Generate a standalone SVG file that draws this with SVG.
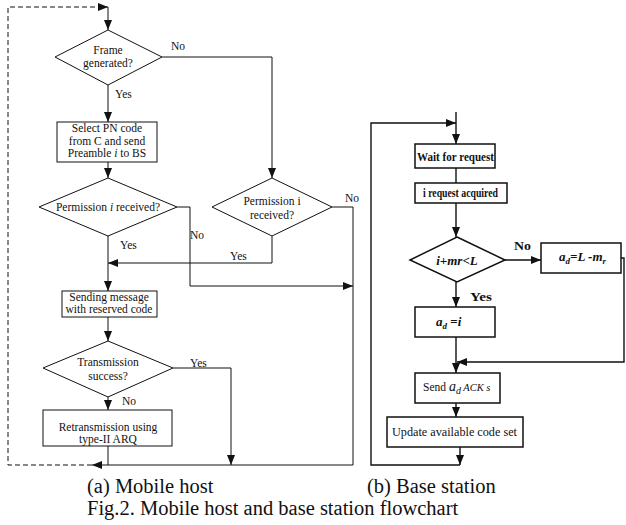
<svg xmlns="http://www.w3.org/2000/svg" width="626" height="525" viewBox="0 0 626 525">
<style>
.ln{fill:none;stroke:#111;stroke-width:1}
.lb{fill:none;stroke:#111;stroke-width:1.4}
.sh{fill:#fff;stroke:#111;stroke-width:1}
.shb{fill:#fff;stroke:#111;stroke-width:1.5}
.t{font-family:"Liberation Serif","Times New Roman",serif;font-size:11.5px;fill:#111}
.tb{font-family:"Liberation Serif","Times New Roman",serif;font-size:13px;font-weight:bold;fill:#111}
.cap{font-family:"Liberation Serif","Times New Roman",serif;font-size:20.5px;fill:#111}
.m{text-anchor:middle}
</style>
<defs>
<marker id="arr" viewBox="0 0 10 8" refX="10" refY="4" markerWidth="10" markerHeight="8" markerUnits="userSpaceOnUse" orient="auto">
<path d="M0,0 L10,4 L0,8 z" fill="#111"/>
</marker>
</defs>
<g id="connectors">
<path class="ln" d="M92,465 H8 V7 H108" stroke-dasharray="5,3" marker-end="url(#arr)"/>
<path class="ln" d="M108,7 V30" marker-end="url(#arr)"/>
<path class="ln" d="M108,85 V122" marker-end="url(#arr)"/>
<path class="ln" d="M108,162 V178" marker-end="url(#arr)"/>
<path class="ln" d="M162,57 H272 V178" marker-end="url(#arr)"/>
<path class="ln" d="M108,236 V291" marker-end="url(#arr)"/>
<path class="ln" d="M272,236 V263 H108" marker-end="url(#arr)"/>
<path class="ln" d="M177,207 H190 V286 H353" marker-end="url(#arr)"/>
<path class="ln" d="M332,207 H353 V465 H92" marker-end="url(#arr)"/>
<path class="ln" d="M108,317 V341" marker-end="url(#arr)"/>
<path class="ln" d="M173,368 H231 V465" marker-end="url(#arr)"/>
<path class="ln" d="M108,397 V410" marker-end="url(#arr)"/>
<path class="ln" d="M108,446 V465"/>
<path class="lb" d="M456,112 V144" marker-end="url(#arr)"/>
<path class="lb" d="M460,465 H371 V123 H456" marker-end="url(#arr)"/>
<path class="lb" d="M456,168 V183"/>
<path class="lb" d="M456,203 V237" marker-end="url(#arr)"/>
<path class="lb" d="M505,260 H541" marker-end="url(#arr)"/>
<path class="lb" d="M621,258 H624 V362 H457" marker-end="url(#arr)"/>
<path class="lb" d="M456,282 V307" marker-end="url(#arr)"/>
<path class="lb" d="M456,337 V373" marker-end="url(#arr)"/>
<path class="lb" d="M456,403 V417" marker-end="url(#arr)"/>
<path class="lb" d="M460,447 V465" marker-end="url(#arr)"/>
</g>
<g id="labels">
<text class="t" x="171" y="50">No</text>
<text class="t" x="115" y="98">Yes</text>
<text class="t" x="345" y="202">No</text>
<text class="t" x="230" y="260">Yes</text>
<text class="t" x="190" y="239">No</text>
<text class="t" x="120" y="249">Yes</text>
<text class="t" x="190" y="367">Yes</text>
<text class="t" x="122" y="405">No</text>
<text class="tb" x="514" y="250" textLength="17" lengthAdjust="spacingAndGlyphs">No</text>
<text class="tb" x="470" y="301" textLength="22" lengthAdjust="spacingAndGlyphs">Yes</text>
</g>
<g id="frame-generated">
<polygon class="sh" points="108,30 162,57 108,85 55,57"/>
<text class="t m" x="108" y="54">Frame</text>
<text class="t m" x="108" y="67">generated?</text>
</g>
<g id="select-pn">
<rect class="sh" x="57" y="122" width="100" height="40"/>
<text class="t m" x="107" y="132">Select PN code</text>
<text class="t m" x="107" y="145">from C and send</text>
<text class="t m" x="107" y="157">Preamble <tspan font-style="italic">i</tspan> to BS</text>
</g>
<g id="permission-left">
<polygon class="sh" points="108,178 177,207 108,236 39,207"/>
<text class="t m" x="108" y="211" font-size="12.5">Permission <tspan font-style="italic">i</tspan> received?</text>
</g>
<g id="permission-right">
<polygon class="sh" points="272,178 332,207 272,236 212,207"/>
<text class="t m" x="272" y="205" font-size="12">Permission i</text>
<text class="t m" x="272" y="219" font-size="12">received?</text>
</g>
<g id="sending">
<rect class="sh" x="62" y="291" width="95" height="26"/>
<text class="t m" x="109" y="301">Sending message</text>
<text class="t m" x="109" y="313">with reserved code</text>
</g>
<g id="transmission">
<polygon class="sh" points="108,341 173,368 108,397 43,368"/>
<text class="t m" x="108" y="366">Transmission</text>
<text class="t m" x="108" y="380">success?</text>
</g>
<g id="retransmission">
<rect class="sh" x="43" y="410" width="129" height="36"/>
<text class="t m" x="108" y="431">Retransmission using</text>
<text class="t m" x="108" y="443">type-II ARQ</text>
</g>
<g id="wait">
<rect class="shb" x="415" y="144" width="80" height="24"/>
<text class="tb" x="417" y="161" textLength="77" lengthAdjust="spacingAndGlyphs">Wait for request</text>
</g>
<g id="acquired">
<rect class="shb" x="415" y="183" width="92" height="20"/>
<text class="tb" x="423" y="197" font-size="12.5" textLength="75" lengthAdjust="spacingAndGlyphs">i request acquired</text>
</g>
<g id="condition">
<polygon class="shb" points="457,237 505,260 457,282 410,260"/>
<text class="tb m" x="457" y="265" font-style="italic">i+mr&lt;L</text>
</g>
<g id="ad-L">
<rect class="shb" x="541" y="243" width="80" height="30"/>
<text class="tb" x="559" y="261" font-style="italic" font-size="12.5">a<tspan dy="3" font-size="9">d</tspan><tspan dy="-3">=L -m</tspan><tspan dy="3" font-size="9">r</tspan></text>
</g>
<g id="ad-i">
<rect class="shb" x="415" y="307" width="80" height="30"/>
<text class="tb" x="436" y="326" font-size="13"><tspan font-style="italic">a</tspan><tspan dy="3" font-size="9" font-style="italic">d</tspan><tspan dy="-3"> =</tspan><tspan font-style="italic">i</tspan></text>
</g>
<g id="send">
<rect class="shb" x="415" y="373" width="85" height="30"/>
<text class="t" x="423" y="391" font-size="11.5">Send <tspan font-style="italic" font-size="14">a</tspan><tspan dy="3" font-style="italic" font-size="10">d</tspan><tspan dy="-3" font-style="italic" font-size="10.5">  ACK s</tspan></text>
</g>
<g id="update">
<rect class="shb" x="387" y="417" width="136" height="30"/>
<text class="t" x="392" y="436" font-size="12.5" textLength="125" lengthAdjust="spacingAndGlyphs">Update  available code set</text>
</g>
<g id="captions">
<text class="cap" x="87" y="493">(a) Mobile host</text>
<text class="cap" x="367" y="493">(b) Base station</text>
<text class="cap" x="87" y="515">Fig.2. Mobile host and base station flowchart</text>
</g>
</svg>
